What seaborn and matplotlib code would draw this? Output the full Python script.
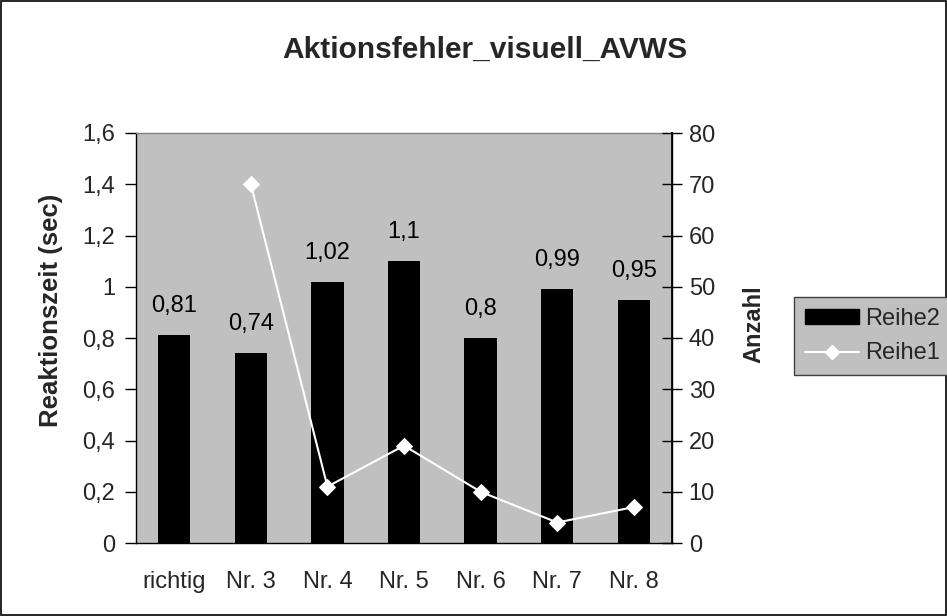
import numpy as np
import pandas as pd
import matplotlib
matplotlib.use("Agg")
import matplotlib.pyplot as plt
from matplotlib.lines import Line2D
from matplotlib.patches import Patch, Rectangle
from matplotlib.ticker import FixedLocator, FuncFormatter
import seaborn as sns

categories = ["richtig", "Nr. 3", "Nr. 4", "Nr. 5", "Nr. 6", "Nr. 7", "Nr. 8"]
reaktionszeit = [0.81, 0.74, 1.02, 1.1, 0.8, 0.99, 0.95]          # Reihe2 (bars)
anzahl = [np.nan, 70, 11, 19, 10, 4, 7]                              # Reihe1 (line)
left_ticks = [0, 0.2, 0.4, 0.6, 0.8, 1.0, 1.2, 1.4, 1.6]
right_ticks = [0, 10, 20, 30, 40, 50, 60, 70, 80]

sns.set_theme(style="white")
plt.rcParams["font.family"] = ["Liberation Sans", "DejaVu Sans"]

GRAY = "#C0C0C0"
FS = 17

fig = plt.figure(figsize=(9.47, 6.16), dpi=100)
ax = fig.add_axes([136 / 947, 1 - 543 / 616, (672 - 136) / 947, (543 - 133) / 616])
ax.set_facecolor(GRAY)

df = pd.DataFrame({"Kategorie": categories, "Reaktionszeit": reaktionszeit, "Anzahl": anzahl})

sns.barplot(data=df, x="Kategorie", y="Reaktionszeit", color="black",
            width=0.42, saturation=1, ax=ax, zorder=2)
for p in ax.patches:
    p.set_edgecolor("none")
    p.set_facecolor("black")

def komma(v, _=None):
    s = f"{v:.2f}".rstrip("0").rstrip(".")
    return s.replace(".", ",")

for i, v in enumerate(reaktionszeit):
    ax.annotate(komma(v), (i, v), xytext=(0, 13), textcoords="offset points",
                ha="center", va="bottom", fontsize=FS, color="black")

ax.set_xlim(-0.5, len(categories) - 0.5)
ax.set_ylim(0, 1.6)
ax.yaxis.set_major_locator(FixedLocator(left_ticks))
ax.yaxis.set_major_formatter(FuncFormatter(lambda v, p: komma(round(v, 2))))
ax.set_xticks(np.arange(len(categories) + 1) - 0.5)
ax.set_xticklabels([])
ax.set_xticks(np.arange(len(categories)), minor=True)
ax.set_xticklabels(categories, minor=True, fontsize=FS)
ax.tick_params(axis="x", which="major", direction="inout", length=16, width=1, color="black")
ax.tick_params(axis="x", which="minor", length=0, pad=20)
ax.tick_params(axis="y", direction="out", length=8, width=1, color="black",
               labelsize=FS, left=True, pad=7)
ax.set_xlabel("")
ax.set_ylabel("Reaktionszeit (sec)", fontsize=18.5, fontweight="bold")
ax.yaxis.set_label_coords((51 - 136) / 536, (543 - 310) / 410)
ax.yaxis.label.set_va("center")

for side in ["left", "bottom", "right"]:
    ax.spines[side].set_color("black")
    ax.spines[side].set_linewidth(1)
ax.spines["top"].set_color("#808080")
ax.spines["top"].set_linewidth(1)

ax2 = ax.twinx()
line_df = df.dropna(subset=["Anzahl"]).copy()
line_df["pos"] = [categories.index(c) for c in line_df["Kategorie"]]
sns.lineplot(data=line_df, x="pos", y="Anzahl", color="white", linewidth=1.5,
             marker="D", markersize=8, markeredgecolor="white", ax=ax2, zorder=3)
ax2.set_xlim(-0.5, len(categories) - 0.5)
ax2.set_ylim(0, 80)
ax2.yaxis.set_major_locator(FixedLocator(right_ticks))
ax2.tick_params(axis="y", direction="inout", length=14, width=1, color="black",
                labelsize=FS, right=True, pad=5)
ax2.set_ylabel("Anzahl", fontsize=17, fontweight="bold")
ax2.yaxis.set_label_coords((754 - 136) / 536, (543 - 324) / 410)
ax2.yaxis.label.set_va("center")
ax2.set_xlabel("")
for s in ax2.spines.values():
    s.set_visible(False)
ax2.spines["right"].set_visible(True)
ax2.spines["right"].set_color("black")

fig.text(485 / 947, 1 - 58 / 616, "Aktionsfehler_visuell_AVWS",
         ha="center", va="baseline", fontsize=21.5, fontweight="bold")

handles = [Patch(facecolor="black", edgecolor="black", label="Reihe2"),
           Line2D([0], [0], color="white", lw=1.5, marker="D", markersize=7,
                  markeredgecolor="white", label="Reihe1")]
leg = fig.legend(handles=handles, loc="center left",
                 bbox_to_anchor=(794 / 947, 1 - 336 / 616), fontsize=FS,
                 frameon=True, fancybox=False, framealpha=1,
                 handlelength=2.3, handleheight=0.6, handletextpad=0.25,
                 borderpad=0.45, labelspacing=0.55, borderaxespad=0)
leg.get_frame().set_facecolor(GRAY)
leg.get_frame().set_edgecolor("#404040")
leg.get_frame().set_linewidth(1)

fig.patches.append(Rectangle((0.001, 0.001), 0.998, 0.998, transform=fig.transFigure,
                             fill=False, edgecolor="black", linewidth=1.2))

fig.savefig("out.png", dpi=100)
